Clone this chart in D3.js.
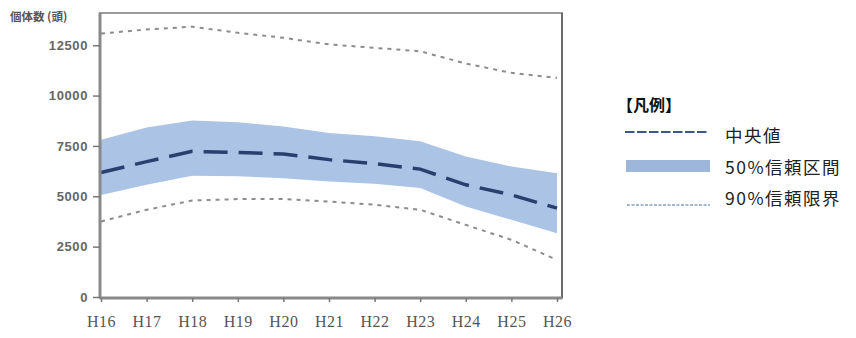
<!DOCTYPE html>
<html><head><meta charset="utf-8">
<script src="https://cdn.jsdelivr.net/npm/d3@7"></script>
<style>body{margin:0;background:#fff}svg{display:block}</style>
</head><body>
<svg id="c" width="856" height="338"></svg>
<script>
const years = ["H16","H17","H18","H19","H20","H21","H22","H23","H24","H25","H26"];
const median = [6180,6720,7230,7180,7100,6820,6620,6350,5570,5070,4410];
const band50Upper = [7810,8410,8760,8670,8470,8140,7980,7730,6980,6480,6150];
const band50Lower = [5070,5570,6020,5990,5900,5740,5620,5410,4490,3830,3170];
const ci90Upper = [13080,13280,13420,13120,12870,12540,12370,12200,11590,11130,10880];
const ci90Lower = [3750,4330,4790,4860,4860,4740,4580,4330,3580,2840,1840];
const yTicks = [0,2500,5000,7500,10000,12500];
const yTitle = "個体数 (頭)";
const legendTitle = "【凡例】";
const legendLabels = ["中央値","50%信頼区間","90%信頼限界"];

const svg = d3.select("#c");
const x = d3.scalePoint().domain(years).range([101,557]);
const y = d3.scaleLinear().domain([0,14100]).range([297,13]);
const L = 100, R = 562, T = 13, B = 298;

// frame
svg.append("rect").attr("x",L).attr("y",T).attr("width",R-L).attr("height",B-T)
  .attr("fill","#fff").attr("stroke","#9a9a9a").attr("stroke-width",2);
svg.append("line").attr("x1",R).attr("x2",R).attr("y1",T).attr("y2",B).attr("stroke","#6a6a6a").attr("stroke-width",2);

const area = d3.area().x((d,i)=>x(years[i])).y0((d,i)=>y(band50Lower[i])).y1(d=>y(d)).curve(d3.curveLinear);
svg.append("path").datum(band50Upper).attr("d",area).attr("fill","#abc3e4");

const line = d3.line().x((d,i)=>x(years[i])).y(d=>y(d));
[ci90Upper, ci90Lower].forEach(s=>{
  svg.append("path").datum(s).attr("d",line).attr("fill","none")
    .attr("stroke","#8c8c8c").attr("stroke-width",2).attr("stroke-dasharray","4,5");
});
svg.append("path").datum(median).attr("d",line).attr("fill","none")
  .attr("stroke","#2b3f6e").attr("stroke-width",3.5).attr("stroke-dasharray","24,11");

// axes
const yAxis = svg.append("g").attr("transform",`translate(${L},0)`)
  .call(d3.axisLeft(y).tickValues(yTicks).tickSize(7).tickPadding(5).tickFormat(d3.format("d")));
const xAxis = svg.append("g").attr("transform",`translate(0,${B})`)
  .call(d3.axisBottom(x).tickSize(4).tickPadding(14));
[yAxis,xAxis].forEach(g=>{
  g.select(".domain").attr("stroke","#8a8a8a").attr("stroke-width",3);
  g.selectAll(".tick line").attr("stroke","#777").attr("stroke-width",1.5);
  g.selectAll("text").attr("fill","#555");
});
yAxis.select(".domain").attr("d",`M0,${T}V${B}`);
xAxis.select(".domain").attr("d",`M${L},0H${R}`);
yAxis.selectAll("text").attr("font-family","Liberation Sans").attr("font-size",13).attr("letter-spacing","0.6px").attr("font-weight","bold").attr("fill","#666");
xAxis.selectAll("text").attr("font-family","Liberation Serif").attr("font-size",16).attr("letter-spacing","0.5px").attr("fill","#555");

svg.append("text").attr("x",10).attr("y",21).text(yTitle)
  .attr("font-family","Noto Sans CJK JP").attr("font-size",11.5).attr("font-weight","bold").attr("fill","#555");

// legend
const lg = svg.append("g");
lg.append("text").attr("x",617).attr("y",111).text(legendTitle)
  .attr("font-family","Noto Sans CJK JP").attr("font-size",16).attr("font-weight","bold").attr("fill","#111");
lg.append("line").attr("x1",625).attr("x2",708).attr("y1",132).attr("y2",132)
  .attr("stroke","#3a5a85").attr("stroke-width",1.8).attr("stroke-dasharray","9.5,2.5");
lg.append("rect").attr("x",626).attr("y",160).attr("width",84).attr("height",12).attr("fill","#9db7db");
lg.append("line").attr("x1",627).attr("x2",710).attr("y1",205).attr("y2",205)
  .attr("stroke","#4a6fa5").attr("stroke-width",1).attr("stroke-dasharray","3,1.5");
legendLabels.forEach((t,i)=>{
  lg.append("text").attr("x",725).attr("y",[141.5,173.5,205][i]).text(t)
    .attr("font-family","Noto Sans CJK JP").attr("font-size",17.5).attr("letter-spacing","1.5px").attr("fill","#222");
});
</script>
</body></html>
